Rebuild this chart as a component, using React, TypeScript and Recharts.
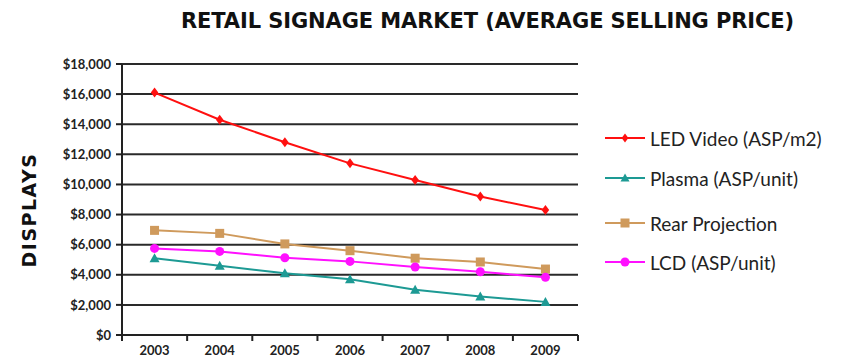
import React from 'react'
import { LineChart, Line, XAxis, YAxis, CartesianGrid } from 'recharts'

const years = ['2003', '2004', '2005', '2006', '2007', '2008', '2009']
const ledVideo = [16100, 14300, 12800, 11400, 10300, 9200, 8300]
const plasma = [5100, 4600, 4100, 3700, 3000, 2550, 2200]
const rearProjection = [6950, 6750, 6050, 5600, 5100, 4850, 4380]
const lcd = [5750, 5550, 5130, 4890, 4520, 4200, 3830]
const yTicks = [0, 2000, 4000, 6000, 8000, 10000, 12000, 14000, 16000, 18000]

const data = years.map((year, i) => ({
  year,
  led: ledVideo[i],
  plasma: plasma[i],
  rear: rearProjection[i],
  lcd: lcd[i],
}))

const FONT = 'Lato, "Open Sans", sans-serif'
const HEAVY = '"DejaVu Sans", sans-serif'
const BAND = 65.1

const fmtMoney = (v: number) => '$' + v.toLocaleString('en-US')

const Diamond = ({ cx, cy, fill, r = 5 }: any) => (
  <path d={`M${cx},${cy - r} L${cx + r * 0.75},${cy} L${cx},${cy + r} L${cx - r * 0.75},${cy} Z`} fill={fill} />
)
const Triangle = ({ cx, cy, fill, r = 5 }: any) => (
  <path d={`M${cx},${cy - r} L${cx + r},${cy + r * 0.8} L${cx - r},${cy + r * 0.8} Z`} fill={fill} />
)
const Square = ({ cx, cy, fill, r = 4.5 }: any) => (
  <rect x={cx - r} y={cy - r} width={r * 2} height={r * 2} fill={fill} />
)
const Circle = ({ cx, cy, fill, r = 4.5 }: any) => <circle cx={cx} cy={cy} r={r} fill={fill} />

const series = [
  { key: 'led', name: 'LED Video (ASP/m2)', color: '#ff1010', Mark: Diamond },
  { key: 'plasma', name: 'Plasma (ASP/unit)', color: '#1d9a94', Mark: Triangle },
  { key: 'rear', name: 'Rear Projection', color: '#cf9a5c', Mark: Square },
  { key: 'lcd', name: 'LCD (ASP/unit)', color: '#ff10ff', Mark: Circle },
]

// category labels sit under the points, tick marks between them
const YearTick = ({ x, y, payload, index }: any) => (
  <g>
    <line x1={x - BAND / 2} y1={y - 8} x2={x - BAND / 2} y2={y - 2} stroke="#222" strokeWidth={2} />
    {index === years.length - 1 && (
      <line x1={x + BAND / 2} y1={y - 8} x2={x + BAND / 2} y2={y - 2} stroke="#222" strokeWidth={2} />
    )}
    <text x={x} y={y + 12} textAnchor="middle" fontFamily={FONT} fontWeight={700} fontSize={13} fill="#222">
      {payload.value}
    </text>
  </g>
)

const legendRows = [138, 178, 223, 262]

const LegendBox = () => (
  <>
    {series.map((s, i) => (
      <div
        key={s.key}
        style={{ position: 'absolute', left: 605, top: legendRows[i] - 11, height: 22, display: 'flex', alignItems: 'center' }}
      >
        <svg width={42} height={12}>
          <line x1={0} y1={6} x2={40} y2={6} stroke={s.color} strokeWidth={2} />
          <s.Mark cx={20} cy={6} fill={s.color} r={4.5} />
        </svg>
        <span style={{ fontFamily: FONT, fontSize: 19, color: '#222', marginLeft: 3, whiteSpace: 'nowrap' }}>{s.name}</span>
      </div>
    ))}
  </>
)

export default function App() {
  return (
    <div style={{ position: 'absolute', left: 0, top: 0, width: 845, height: 357, background: '#fff' }}>
      <div
        style={{
          position: 'absolute',
          left: 0,
          top: 9,
          width: 975,
          textAlign: 'center',
          fontFamily: HEAVY,
          fontWeight: 700,
          fontSize: 21,
          color: '#111',
          letterSpacing: -0.1,
        }}
      >
        RETAIL SIGNAGE MARKET (AVERAGE SELLING PRICE)
      </div>
      <div
        style={{
          position: 'absolute',
          left: 29,
          top: 210,
          transform: 'translate(-50%, -50%) rotate(-90deg)',
          fontFamily: HEAVY,
          fontWeight: 700,
          fontSize: 19,
          letterSpacing: 1.5,
          color: '#111',
          whiteSpace: 'nowrap',
        }}
      >
        DISPLAYS
      </div>
      <LineChart width={845} height={357} data={data} margin={{ top: 64, right: 267, left: 0, bottom: 0 }}>
        <CartesianGrid vertical={false} stroke="#2a2a2a" strokeWidth={2} />
        <XAxis
          dataKey="year"
          height={22}
          padding={{ left: BAND / 2, right: BAND / 2 }}
          axisLine={{ stroke: '#222', strokeWidth: 2 }}
          tickLine={false}
          tick={<YearTick />}
          interval={0}
        />
        <YAxis
          width={122}
          domain={[0, 18000]}
          ticks={yTicks}
          interval={0}
          tickFormatter={fmtMoney}
          axisLine={{ stroke: '#222', strokeWidth: 2 }}
          tickLine={{ stroke: '#222', strokeWidth: 2 }}
          tickSize={6}
          tickMargin={5}
          tick={{ fontFamily: FONT, fontWeight: 700, fontSize: 13, fill: '#222' }}
        />
        <YAxis
          yAxisId="frame"
          orientation="right"
          width={0}
          domain={[0, 18000]}
          tick={false}
          tickLine={false}
          axisLine={{ stroke: '#222', strokeWidth: 2 }}
        />
        {series.map((s) => (
          <Line
            key={s.key}
            dataKey={s.key}
            name={s.name}
            stroke={s.color}
            strokeWidth={2}
            dot={(p: any) => <s.Mark key={p.index} cx={p.cx} cy={p.cy} fill={s.color} />}
            activeDot={false}
            isAnimationActive={false}
          />
        ))}
      </LineChart>
      <LegendBox />
    </div>
  )
}
